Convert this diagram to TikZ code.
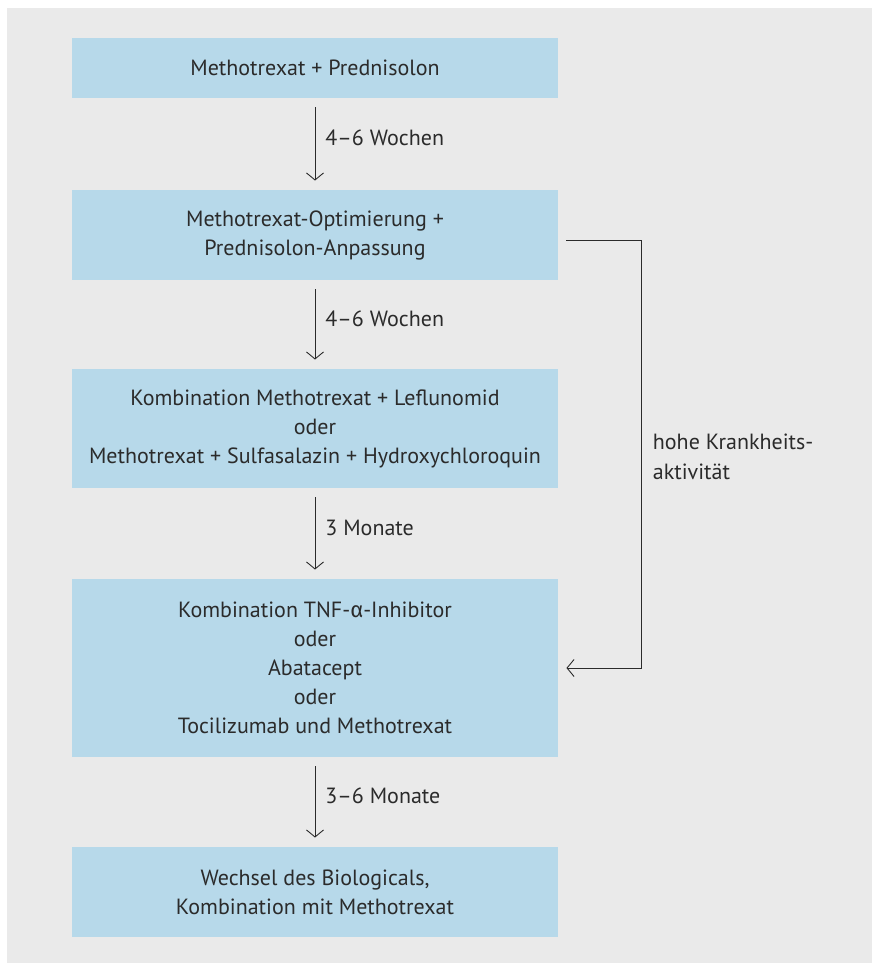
\documentclass[tikz,border=0pt]{standalone}
\usepackage{fontspec}
\setmainfont{PT Sans}
\newfontfamily\greekfont{Fira Sans}
\usepackage{xcolor}
\usetikzlibrary{arrows.meta}
\definecolor{bgGray}{HTML}{EAEAEA}
\definecolor{boxBlue}{HTML}{B7D9EA}
\definecolor{txtDark}{HTML}{2B2B2B}

\begin{document}
\begin{tikzpicture}[x=1pt,y=-1pt,line width=0.9pt,
  every node/.style={font=\fontsize{22pt}{29pt}\selectfont,text=txtDark,inner sep=0pt},
  stepbox/.style={fill=boxBlue,minimum width=486pt,align=center},
  flow/.style={draw=txtDark,-{Straight Barb[length=7pt,width=17pt]},shorten >=9pt,shorten <=9pt},
  tag/.style={right,align=left,xshift=10pt,yshift=6pt}]
  \useasboundingbox (0,0) rectangle (871,963);
  \fill[bgGray] (7,8) rectangle (880,970);
  % Therapiestufen
  \node[stepbox,minimum height=60pt]  (mtx)  at (315,68)    {Methotrexat + Prednisolon};
  \node[stepbox,minimum height=90pt]  (opt)  at (315,235)   {Methotrexat-Optimierung +\\Prednisolon-Anpassung};
  \node[stepbox,minimum height=119pt] (komb) at (315,428.5) {Kombination Methotrexat + Leflunomid\\oder\\Methotrexat + Sulfasalazin + Hydroxychloroquin};
  \node[stepbox,minimum height=178pt] (bio)  at (315,668)   {Kombination TNF-{\greekfont α}-Inhibitor\\oder\\Abatacept\\oder\\Tocilizumab und Methotrexat};
  \node[stepbox,minimum height=90pt]  (wech) at (315,892)   {Wechsel des Biologicals,\\Kombination mit Methotrexat};
  % Pfeile
  \draw[flow] (mtx)  -- node[tag] {4–6 Wochen} (opt);
  \draw[flow] (opt)  -- node[tag] {4–6 Wochen} (komb);
  \draw[flow] (komb) -- node[tag] {3 Monate} (bio);
  \draw[flow] (bio)  -- node[tag] {3–6 Monate} (wech);
  \draw[flow,shorten >=8pt,shorten <=8pt] ([yshift=-5pt]opt.east) -- ++(83,0) |- (bio.east)
    node[pos=0.25,right,align=left,xshift=11pt,yshift=-3pt,
      font=\fontsize{22pt}{30pt}\selectfont] {hohe Krankheits-\\aktivität};
\end{tikzpicture}
\end{document}
